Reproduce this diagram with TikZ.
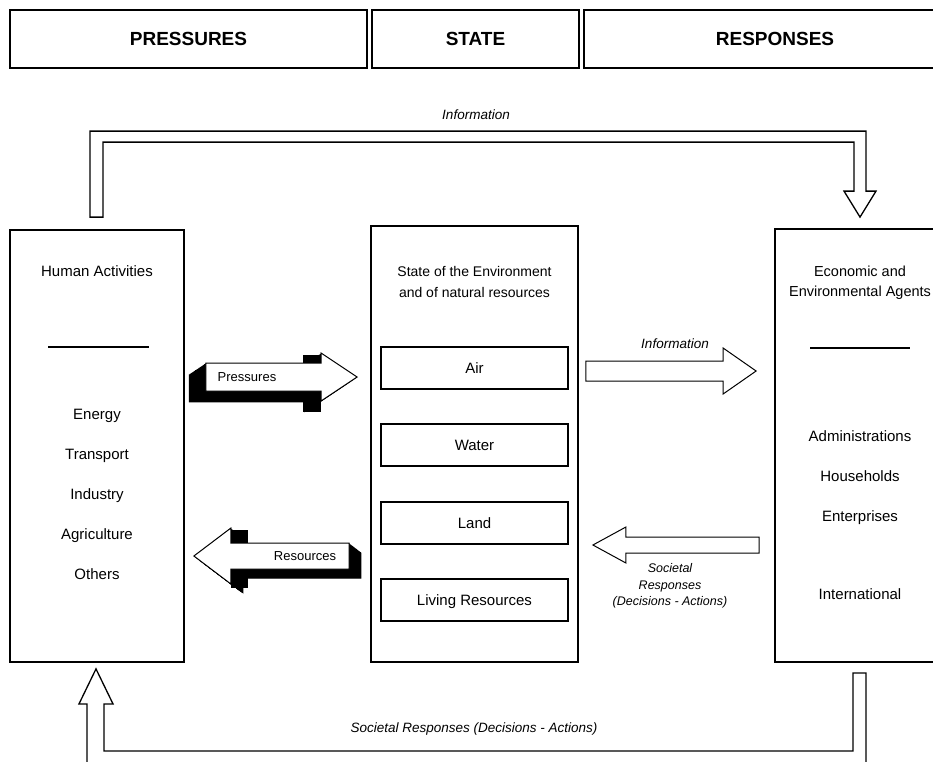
\documentclass[tikz,border=0pt]{standalone}
\usepackage{fontspec}
\setmainfont{Liberation Sans}
\usetikzlibrary{calc}

\tikzset{
    headbox/.style={draw, line width=1.5pt, minimum height=58pt, inner sep=0pt,
        font=\fontsize{19}{22}\selectfont\bfseries},
    mainbox/.style={draw, line width=1.8pt, inner sep=0pt},
    statebox/.style={draw, line width=1.3pt, minimum width=187pt, minimum height=42pt,
        inner sep=0pt, text height=10.5pt, text depth=0pt, font=\fontsize{15}{18}\selectfont},
    itemtext/.style={inner sep=0pt, text height=10.5pt, text depth=0pt,
        font=\fontsize{15}{18}\selectfont},
    titletext/.style={inner sep=0pt, align=center, font=\fontsize{14.5}{20}\selectfont},
    flowtext/.style={inner sep=0pt, align=center, font=\fontsize{13.5}{16.5}\selectfont\itshape},
    arrowtext/.style={inner sep=0pt, text height=9pt, text depth=0pt, font=\fontsize{13}{16}\selectfont},
    openarrow/.style={draw, line width=1pt, fill=white},
    looparrow/.style={draw, line width=1.3pt},
}

% Block arrow: tail #2, tip #3, half shaft #4, half head #5, head length #6.
\newcommand{\blockarrow}[6][openarrow]{
    \coordinate (ba-t) at (#2);
    \coordinate (ba-p) at (#3);
    \coordinate (ba-b) at ($(ba-p)!#6!(ba-t)$);
    \path[#1] ($(ba-t)!#4!90:(ba-p)$) -- ($(ba-b)!#4!90:(ba-p)$)
        -- ($(ba-b)!#5!90:(ba-p)$) -- (ba-p)
        -- ($(ba-b)!#5!-90:(ba-p)$) -- ($(ba-b)!#4!-90:(ba-p)$)
        -- ($(ba-t)!#4!-90:(ba-p)$) -- cycle;
}

\begin{document}
\begin{tikzpicture}[x=1pt,y=-1pt]
    \useasboundingbox (0,0) rectangle (933,761);
    \fill[white] (0,0) rectangle (933,761);
    \begin{scope}
    \clip (0,0) rectangle (933,761);

    % Header row.
    \node[headbox, minimum width=357pt] (hpress) at (188.5,39) {PRESSURES};
    \node[headbox, minimum width=207pt] (hstate) at (475.5,39) {STATE};
    \node[headbox, minimum width=382pt] (hresp) at (775,39) {RESPONSES};

    % Main boxes.
    \node[mainbox, minimum width=174pt, minimum height=432pt] (hum) at (97,446) {};
    \node[mainbox, minimum width=207pt, minimum height=436pt] (env) at (474.5,444) {};
    \node[mainbox, minimum width=170pt, minimum height=433pt] (agents) at (860,445.5) {};

    % Human activities.
    \node[itemtext] (humtitle) at (97,271) {Human Activities};
    \draw[line width=1.5pt] (48,347) -- (149,347);
    \foreach \lbl [count=\i] in {Energy,Transport,Industry,Agriculture,Others}
        \node[itemtext] (hum\i) at (97,374+40*\i) {\lbl};

    % State of the environment.
    \node[titletext, font=\fontsize{14}{21}\selectfont] (envtitle) at (474.5,282)
        {State of the Environment\\and of natural resources};
    \foreach \name/\y/\lbl in {air/368/Air, water/445/Water, land/523/Land, living/600/Living Resources}
        \node[statebox] (\name) at (474.5,\y) {\lbl};

    % Economic and environmental agents.
    \node[titletext] (agtitle) at (860,283) {Economic and\\Environmental Agents};
    \draw[line width=1.5pt] (810,348) -- (910,348);
    \foreach \lbl/\y [count=\i] in {Administrations/436, Households/476, Enterprises/516, International/594}
        \node[itemtext] (ag\i) at (860,\y) {\lbl};

    % Pressures arrow with its black extrusion.
    \coordinate (pTail) at ($(hum.east)+(21,-69)$);
    \coordinate (pTip) at ($(env.west)+(-13,-67)$);
    \foreach \t in {0,0.05,...,1} {
        \blockarrow[fill=black]{$(pTail)+(-18*\t,12*\t)$}{$(pTip)+(-18*\t,12*\t)$}{14pt}{24pt}{36pt}
    }
    \fill[black] ($(pTip)+(-36,-22)$) rectangle ($(pTip)+(-54,35)$);
    \blockarrow{pTail}{pTip}{14pt}{24pt}{36pt}
    \node[arrowtext] (plbl) at (247,377) {Pressures};

    % Resources arrow with its black extrusion.
    \coordinate (rTail) at ($(env.west)+(-21,112)$);
    \coordinate (rTip) at ($(hum.east)+(9,110)$);
    \foreach \t in {0,0.05,...,1} {
        \blockarrow[fill=black]{$(rTail)+(13*\t,10*\t)$}{$(rTip)+(13*\t,10*\t)$}{13pt}{28pt}{37pt}
    }
    \fill[black] ($(rTip)+(37,-26)$) rectangle ($(rTip)+(54,32)$);
    \blockarrow{rTail}{rTip}{13pt}{28pt}{37pt}
    \node[arrowtext] (rlbl) at (305,556) {Resources};

    % Information to the agents.
    \coordinate (iTail) at ($(env.east)+(7,-73)$);
    \coordinate (iTip) at ($(agents.west)+(-18,-74.5)$);
    \blockarrow{iTail}{iTip}{10pt}{23pt}{33pt}
    \node[flowtext] (ilbl) at (675,344) {Information};

    % Societal responses back to the state.
    \coordinate (sTail) at ($(agents.west)+(-15,99.5)$);
    \coordinate (sTip) at ($(env.east)+(14,101)$);
    \blockarrow{sTail}{sTip}{8pt}{18pt}{33pt}
    \node[flowtext, font=\fontsize{12.5}{16.5}\selectfont\itshape] (slbl) at (670,586)
        {Societal\\Responses\\(Decisions - Actions)};

    % Information loop over the top.
    \coordinate (infoFoot) at ($(hum.north)+(0,-12)$);
    \coordinate (infoTip) at ($(agents.north)+(0,-11)$);
    \draw[looparrow] ($(infoFoot)+(-7,0)$) |- ($(infoTip)+(6,-86)$) -- ($(infoTip)+(6,-26)$)
        -- ++(10,0) -- (infoTip) -- ++(-16,-26) -- ++(10,0)
        |- ($(infoFoot)+(6,-75)$) -- ($(infoFoot)+(6,0)$) -- cycle;
    \node[flowtext] (infotop) at (476,115) {Information};

    % Societal responses loop along the bottom.
    \coordinate (socFoot) at ($(agents.south)+(0,10)$);
    \coordinate (socTip) at ($(hum.south)+(-1,6)$);
    \draw[looparrow] ($(socFoot)+(6,0)$) |- ($(socTip)+(-9,98)$) -- ($(socTip)+(-9,35)$)
        -- ++(-8,0) -- (socTip) -- ++(17,35) -- ++(-9,0)
        |- ($(socFoot)+(-7,78)$) -- ($(socFoot)+(-7,0)$) -- cycle;
    \node[flowtext] (socbottom) at (474,729) {Societal Responses (Decisions - Actions)};
    \end{scope}
\end{tikzpicture}
\end{document}
